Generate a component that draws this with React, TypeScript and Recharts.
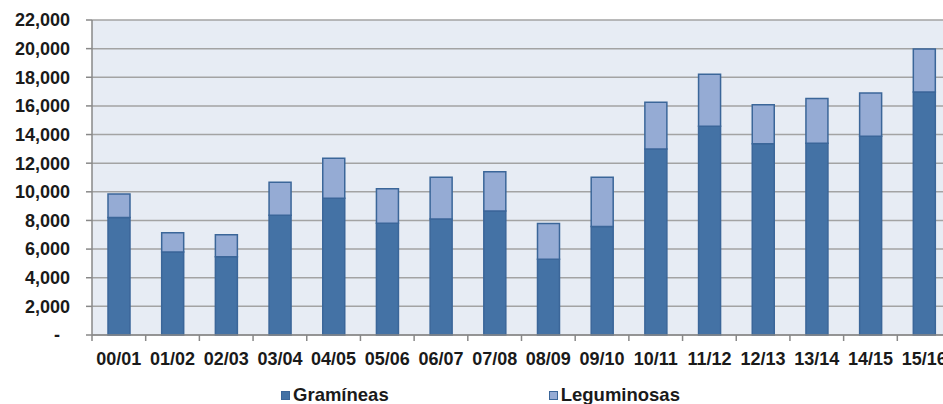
import React from "react";
import { BarChart, Bar, XAxis, YAxis, CartesianGrid, Legend } from "recharts";

const categories = ["00/01", "01/02", "02/03", "03/04", "04/05", "05/06", "06/07", "07/08", "08/09", "09/10", "10/11", "11/12", "12/13", "13/14", "14/15", "15/16"];
const gramineas = [8200, 5800, 5470, 8360, 9550, 7800, 8100, 8660, 5290, 7570, 12990, 14580, 13360, 13390, 13880, 16970];
const leguminosas = [1650, 1350, 1530, 2300, 2790, 2420, 2910, 2750, 2490, 3440, 3260, 3630, 2720, 3120, 3020, 3010];
const yTicks = [0, 2000, 4000, 6000, 8000, 10000, 12000, 14000, 16000, 18000, 20000, 22000];
const seriesNames = { gram: "Gramíneas", leg: "Leguminosas" };

const data = categories.map((c, i) => ({ cat: c, gram: gramineas[i], leg: leguminosas[i] }));

const CHART_W = 960;
const CHART_H = 404;
const MARGIN = { top: 20, right: 9, left: 0, bottom: 0 };
const Y_W = 92;
const BAND = (CHART_W - MARGIN.left - MARGIN.right - Y_W) / categories.length;
const FONT = "'Liberation Sans', Arial, sans-serif";
const DARK = "#4472a5";
const LIGHT = "#95abd4";
const EDGE = "#3b6699";

const XTick = (props: any) => {
  const { x, y, payload } = props;
  const bx = x - BAND / 2;
  return (
    <g>
      <line x1={bx} y1={y - 17} x2={bx} y2={y - 11} stroke="#888" strokeWidth={1.5} />
      <text x={x} y={y} dy="0.71em" textAnchor="middle" fontFamily={FONT} fontWeight="bold" fontSize={18} fill="#1a1a1a">
        {payload.value}
      </text>
    </g>
  );
};

const fmtY = (v: number) => (v === 0 ? "-\u00a0\u00a0" : v.toLocaleString("en-US"));

const LegendContent = (props: any) => {
  const { payload } = props;
  return (
    <div style={{ height: 39, display: "flex", justifyContent: "center", alignItems: "flex-end", gap: 160, paddingLeft: 10, boxSizing: "border-box", paddingBottom: 0 }}>
      {(payload || []).map((p: any) => (
        <div key={p.value} style={{ display: "flex", alignItems: "center", height: 20, marginBottom: -1 }}>
          <span style={{ display: "inline-block", width: 9, height: 9, background: p.color, border: `1px solid ${EDGE}`, boxSizing: "border-box", marginRight: 3 }} />
          <span style={{ fontFamily: FONT, fontWeight: "bold", fontSize: 18.5, color: "#1a1a1a", lineHeight: "20px" }}>{p.value}</span>
        </div>
      ))}
    </div>
  );
};

export default function App() {
  return (
    <div style={{ position: "absolute", left: 0, top: 0, width: 943, height: 404, overflow: "hidden", background: "#fff" }}>
      <BarChart width={CHART_W} height={CHART_H} data={data} margin={MARGIN} barSize={22}>
        <CartesianGrid vertical={false} stroke="#a3a3a3" strokeWidth={1.5} fill="#e7ecf4" />
        <XAxis
          dataKey="cat"
          height={30}
          tickSize={6}
          tickMargin={11}
          tickLine={false}
          axisLine={{ stroke: "#888", strokeWidth: 1.5 }}
          tick={<XTick />}
          interval={0}
        />
        <YAxis
          width={Y_W}
          domain={[0, 22000]}
          ticks={yTicks}
          tickFormatter={fmtY}
          tickSize={6}
          tickMargin={16}
          axisLine={{ stroke: "#888", strokeWidth: 1.5 }}
          tickLine={{ stroke: "#888", strokeWidth: 1.5 }}
          tick={{ fontFamily: FONT, fontWeight: "bold", fontSize: 18, fill: "#1a1a1a" }}
          interval={0}
        />
        <Legend verticalAlign="bottom" content={<LegendContent />} />
        <Bar dataKey="gram" name={seriesNames.gram} stackId="a" fill={DARK} stroke={EDGE} strokeWidth={1.5} isAnimationActive={false} />
        <Bar dataKey="leg" name={seriesNames.leg} stackId="a" fill={LIGHT} stroke={EDGE} strokeWidth={1.5} isAnimationActive={false} />
      </BarChart>
    </div>
  );
}
